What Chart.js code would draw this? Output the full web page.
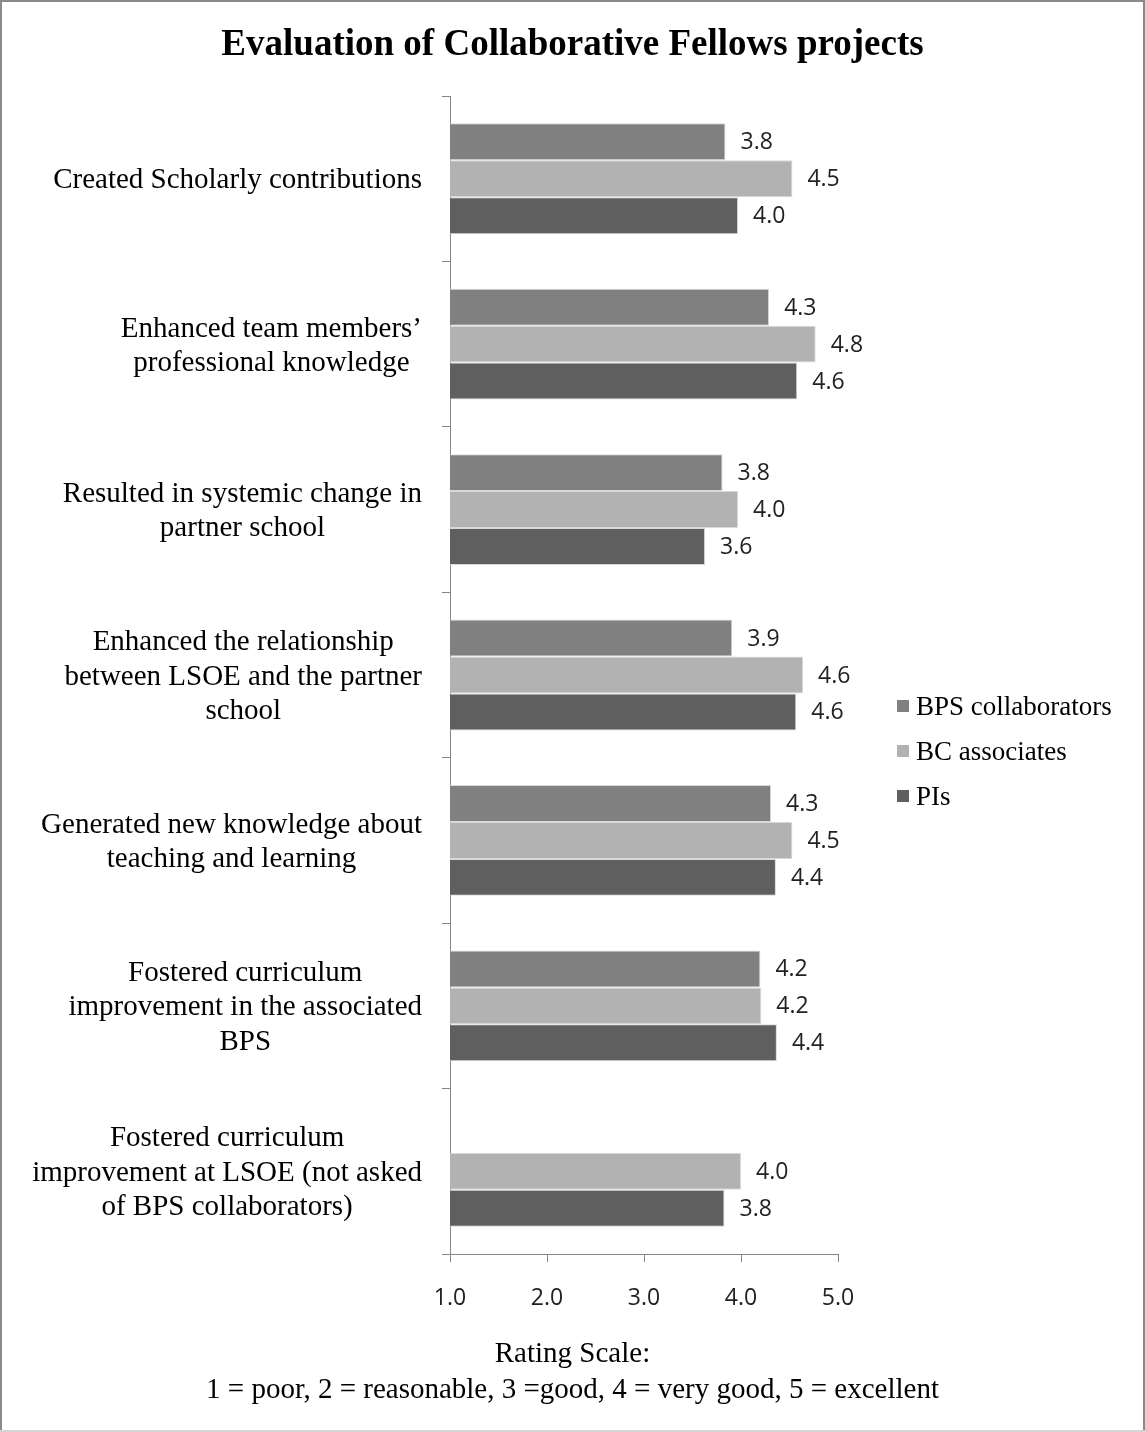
<!DOCTYPE html>
<html>
<head>
<meta charset="utf-8">
<script src="https://cdn.jsdelivr.net/npm/chart.js@4.4.1/dist/chart.umd.min.js"></script>
<style>
html,body{margin:0;padding:0;background:#fff;}
#wrap{position:relative;width:1145px;height:1432px;}
canvas{display:block;}
</style>
</head>
<body>
<div id="wrap"><canvas id="c" width="1145" height="1432"></canvas></div>
<script>
// ---- data ----
const categories = [
  ["Created Scholarly contributions"],
  ["Enhanced team members\u2019", "professional knowledge"],
  ["Resulted in systemic change in", "partner school"],
  ["Enhanced the relationship", "between LSOE and the partner", "school"],
  ["Generated new knowledge about", "teaching and learning"],
  ["Fostered curriculum", "improvement in the associated", "BPS"],
  ["Fostered curriculum", "improvement at LSOE (not asked", "of BPS collaborators)"]
];
const seriesNames = ["BPS collaborators", "BC associates", "PIs"];
const bpsCollaborators = [3.84, 4.29, 3.81, 3.91, 4.31, 4.20, null];
const bcAssociates     = [4.53, 4.77, 3.97, 4.64, 4.53, 4.21, 4.00];
const pis              = [3.97, 4.58, 3.63, 4.57, 4.36, 4.37, 3.83];
const xTickValues = [1, 2, 3, 4, 5];
const titleText = "Evaluation of Collaborative Fellows projects";
const captionLines = ["Rating Scale:", "1 = poor, 2 = reasonable, 3 =good, 4 = very good, 5 = excellent"];

// ---- styles ----
const seriesColors = ["#808080", "#b2b2b2", "#5f5f5f"];
const serif = "'Liberation Serif', 'Times New Roman', serif";
const sans = "'Open Sans', 'DejaVu Sans', sans-serif";
const axisColor = "#868686";

const datasets = [bpsCollaborators, bcAssociates, pis].map((d, i) => ({
  label: seriesNames[i],
  data: d,
  backgroundColor: seriesColors[i],
  borderColor: "#d9d9d9",
  borderWidth: 1,
  categoryPercentage: 0.67,
  barPercentage: 1.0,
  xAxisID: "x",
  yAxisID: "y"
}));

const framePlugin = {
  id: "frame",
  beforeDraw(chart) {
    const ctx = chart.ctx, w = chart.width, h = chart.height;
    ctx.save();
    ctx.fillStyle = "#fff";
    ctx.fillRect(0, 0, w, h);
    ctx.fillStyle = "#8a8a8a";
    ctx.fillRect(0, 0, w, 2);
    ctx.fillRect(0, 0, 2, h);
    ctx.fillRect(w - 2, 0, 2, h);
    ctx.fillStyle = "#d4d4d4";
    ctx.fillRect(0, h - 2, w, 2);
    ctx.restore();
  }
};

const categoryLabelPlugin = {
  id: "catLabels",
  afterDraw(chart) {
    const ctx = chart.ctx, ys = chart.scales.y;
    const lh = 34.5;
    const rightEdge = chart.chartArea.left - 28;
    ctx.save();
    ctx.font = "29px " + serif;
    ctx.fillStyle = "#000";
    ctx.textAlign = "center";
    ctx.textBaseline = "middle";
    categories.forEach((lines, i) => {
      const yc = ys.getPixelForTick(i) + 2;
      const bw = Math.max(...lines.map(l => ctx.measureText(l).width));
      const cx = rightEdge - bw / 2;
      lines.forEach((l, j) => {
        ctx.fillText(l, cx, yc + (j - (lines.length - 1) / 2) * lh);
      });
    });
    ctx.restore();
  }
};

const valueLabelPlugin = {
  id: "valueLabels",
  afterDatasetsDraw(chart) {
    const ctx = chart.ctx;
    ctx.save();
    ctx.font = "23px " + sans;
    ctx.fillStyle = "#222";
    ctx.textAlign = "left";
    ctx.textBaseline = "middle";
    chart.data.datasets.forEach((ds, i) => {
      const meta = chart.getDatasetMeta(i);
      meta.data.forEach((bar, j) => {
        const v = ds.data[j];
        if (v === null || v === undefined) return;
        ctx.fillText(v.toFixed(1), bar.x + 15, bar.y + 1);
      });
    });
    ctx.restore();
  }
};

const sideLegendPlugin = {
  id: "sideLegend",
  afterDraw(chart) {
    const ctx = chart.ctx;
    const area = chart.chartArea;
    const boxX = area.right + 59, textX = area.right + 78;
    const firstY = 706, step = 45, box = 12;
    ctx.save();
    ctx.font = "27px " + serif;
    ctx.textAlign = "left";
    ctx.textBaseline = "middle";
    chart.data.datasets.forEach((ds, i) => {
      const y = firstY + i * step;
      ctx.fillStyle = ds.backgroundColor;
      ctx.fillRect(boxX, y - box / 2, box, box);
      ctx.fillStyle = "#000";
      ctx.fillText(ds.label, textX, y + 2);
    });
    ctx.restore();
  }
};

new Chart(document.getElementById("c"), {
  type: "bar",
  data: {
    labels: categories.map(c => c.join(" ")),
    datasets: datasets
  },
  options: {
    indexAxis: "y",
    responsive: false,
    devicePixelRatio: 1,
    animation: false,
    layout: { padding: 0 },
    plugins: {
      legend: { display: false },
      tooltip: { enabled: false },
      title: {
        display: true,
        text: titleText,
        color: "#000",
        font: { family: serif, size: 37, weight: "bold", lineHeight: 1.2 },
        padding: { top: 23, bottom: 28.6 }
      },
      subtitle: {
        display: true,
        position: "bottom",
        text: captionLines,
        color: "#000",
        font: { family: serif, size: 29, weight: "normal", lineHeight: "35.5px" },
        padding: { top: 25, bottom: 24 }
      }
    },
    scales: {
      x: {
        type: "linear",
        position: "bottom",
        min: 1,
        max: 5,
        afterBuildTicks: s => { s.ticks = xTickValues.map(v => ({ value: v })); },
        afterFit: s => { s.height = 58; },
        ticks: {
          callback: v => Number(v).toFixed(1),
          color: "#222",
          font: { family: sans, size: 23, lineHeight: 1.2 },
          padding: 23,
          maxRotation: 0
        },
        grid: { display: true, drawOnChartArea: false, drawTicks: true, tickLength: 8, color: axisColor, lineWidth: 1 },
        border: { display: true, color: axisColor, width: 1 }
      },
      y: {
        type: "category",
        position: "left",
        afterFit: s => { s.width = 450; },
        ticks: { display: false },
        grid: { display: true, offset: true, drawOnChartArea: false, drawTicks: true, tickLength: 8, color: axisColor, lineWidth: 1 },
        border: { display: true, color: axisColor, width: 1 }
      },
      yRight: {
        type: "linear",
        axis: "y",
        position: "right",
        display: true,
        min: 0,
        max: 1,
        afterFit: s => { s.width = 307; },
        ticks: { display: false },
        grid: { display: false },
        border: { display: false }
      }
    }
  },
  plugins: [framePlugin, categoryLabelPlugin, valueLabelPlugin, sideLegendPlugin]
});
</script>
</body>
</html>
